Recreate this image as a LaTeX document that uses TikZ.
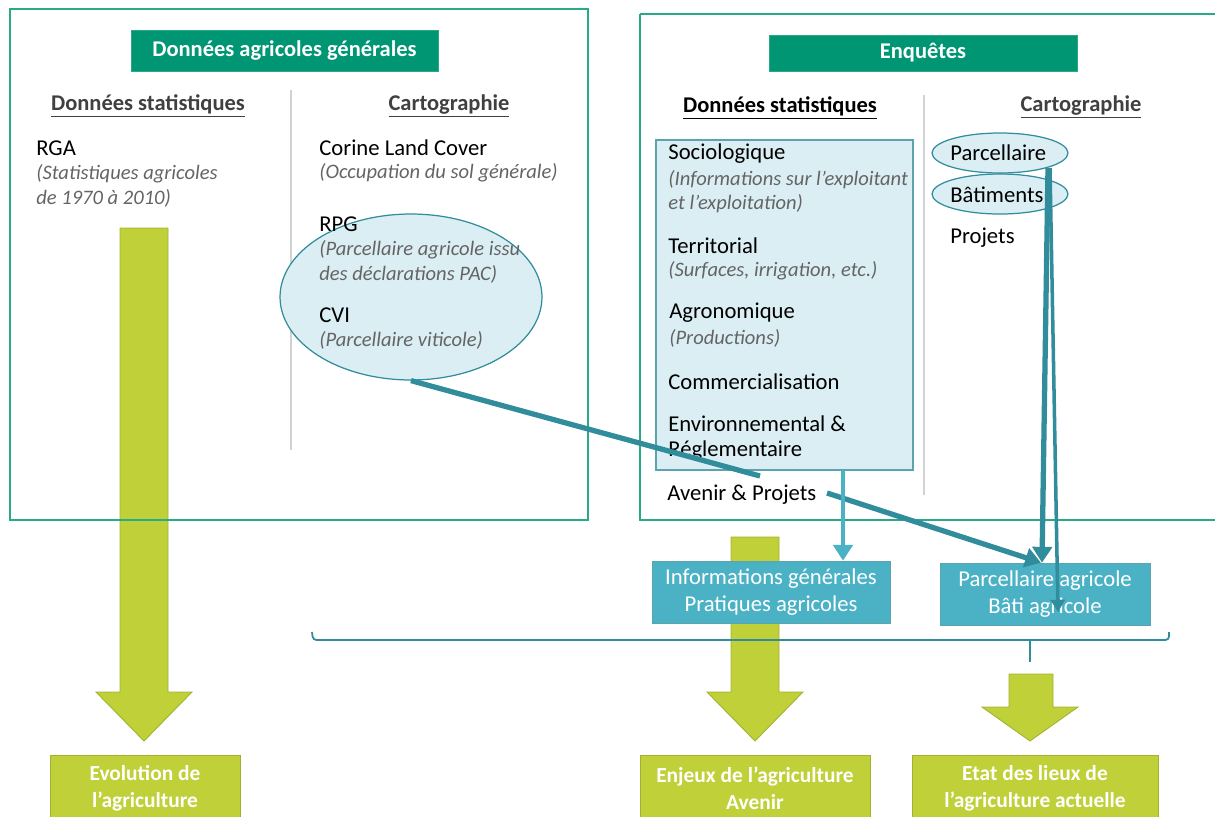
\documentclass[tikz,border=0pt]{standalone}
\usepackage{fontspec}
\setmainfont{Carlito}
\usepackage{tikz}
\usetikzlibrary{shapes.geometric, arrows.meta, positioning, calc}
\definecolor{mygreen}{RGB}{0,150,115}
\definecolor{myframe}{RGB}{40,170,135}
\definecolor{myteal}{RGB}{49,140,155}
\definecolor{mylteal}{RGB}{75,178,198}
\definecolor{myblue}{RGB}{219,238,244}
\definecolor{myolive}{RGB}{192,208,56}
\definecolor{mygraytxt}{RGB}{64,64,64}
\definecolor{myitalic}{RGB}{100,100,100}
\definecolor{mydivider}{RGB}{210,210,210}
\tikzset{
  frame/.style={draw=myframe, line width=0.8pt},
  header/.style={rectangle, draw=myframe, fill=mygreen, text=white,
    font=\fontsize{12.8}{15}\selectfont\bfseries, inner sep=0pt},
  coltitle/.style={font=\fontsize{12.8}{15}\selectfont\bfseries, inner sep=0pt},
  item/.style={anchor=west, font=\fontsize{12.9}{15}\selectfont, inner sep=0pt},
  note/.style={anchor=west, align=left, text=myitalic,
    font=\fontsize{11.7}{13.8}\selectfont\itshape, inner sep=0pt},
  cartoellipse/.style={ellipse, draw=myteal, fill=myblue, line width=0.7pt, inner sep=0pt},
  resultbox/.style={rectangle, draw=myteal!80, fill=mylteal, text=white, align=center,
    font=\fontsize{12.9}{15}\selectfont, inner sep=0pt},
  finalbox/.style={rectangle, draw=myolive!85!black, fill=myolive, text=white, align=center,
    font=\fontsize{12.2}{15.3}\selectfont\bfseries, inner sep=0pt},
  bigarrow/.style={fill=myolive, draw=myolive!85!black, line width=0.5pt},
  arrow/.style={-{Triangle[length=9pt,width=11pt]}, line width=3pt, color=myteal},
  thinarrow/.style={-{Triangle[length=7pt,width=8pt]}, line width=2pt, color=myteal},
  larrow/.style={-{Triangle[length=9pt,width=11pt]}, line width=2.5pt, color=mylteal},
  divider/.style={draw=mydivider, line width=0.6pt}
}
\newcommand{\ul}[1]{\underline{#1}}
\begin{document}
\begin{tikzpicture}[x=0.02cm, y=-0.02cm]
  \useasboundingbox (0,0) rectangle (1215,816);

  % --- BIG GREEN ARROWS (behind) ---
  \draw[bigarrow] (120,228) -- (168,228) -- (168,692) -- (192,692) -- (144,741)
    -- (96,692) -- (120,692) -- cycle;
  \draw[bigarrow] (731,537) -- (779,537) -- (779,692) -- (803,692) -- (755,741)
    -- (707,692) -- (731,692) -- cycle;
  \draw[bigarrow] (1009,674) -- (1053,674) -- (1053,707) -- (1078,707) -- (1030,741)
    -- (982,707) -- (1009,707) -- cycle;

  % --- DONNEES AGRICOLES GENERALES ---
  \draw[frame] (10,9) rectangle (588,520);
  \node[header, minimum width=6.14cm, minimum height=0.82cm]
    (hdr_gen) at (284.5,50.5) {Données agricoles générales};
  \draw[divider] (291,90) -- (291,450);
  \node[coltitle, text=mygraytxt] (gen_stat) at (148,106) {\ul{Données statistiques}};
  \node[coltitle, text=mygraytxt] (gen_carto) at (449,106) {\ul{Cartographie}};

  \node[item] (rga) at (36,148) {RGA};
  \node[note] (rga_note) at (36,186) {(Statistiques agricoles\\de 1970 à 2010)};

  \node[item] (clc) at (319,148) {Corine Land Cover};
  \node[note] (clc_note) at (319,173) {(Occupation du sol générale)};

  \node[cartoellipse, minimum width=5.24cm, minimum height=3.32cm] (rpg_ell) at (411,297) {};
  \node[item] (rpg) at (319,224) {RPG};
  \node[note] (rpg_note) at (319,262) {(Parcellaire agricole issu\\des déclarations PAC)};
  \node[item] (cvi) at (319,315) {CVI};
  \node[note] (cvi_note) at (319,340) {(Parcellaire viticole)};

  % --- ENQUETES ---
  \draw[frame] (640,14) -- (1222,14) (640,14) -- (640,520) -- (1222,520);
  \node[header, minimum width=6.16cm, minimum height=0.72cm]
    (hdr_enq) at (923,53) {Enquêtes};
  \draw[divider] (924,95) -- (924,495);
  \node[coltitle] (enq_stat) at (780,108) {\ul{Données statistiques}};
  \node[coltitle, text=mygraytxt] (enq_carto) at (1081,107) {\ul{Cartographie}};

  \draw[draw=myteal!80, fill=myblue, line width=0.7pt] (656,140) rectangle (913,470);
  \node[item] (socio) at (668,154) {Sociologique};
  \node[note] (socio_note) at (668,192) {(Informations sur l’exploitant\\et l’exploitation)};
  \node[item] (terr) at (668,246) {Territorial};
  \node[note] (terr_note) at (668,271) {(Surfaces, irrigation, etc.)};
  \node[item] (agro) at (669,313) {Agronomique};
  \node[note] (agro_note) at (669,338) {(Productions)};
  \node[item] (comm) at (668,382) {Commercialisation};
  \node[item] (envi) at (668,424) {Environnemental \&};
  \node[item] (regl) at (668,451) {Réglementaire};
  \node[item] (avenir) at (667,495) {Avenir \& Projets};

  \node[cartoellipse, minimum width=2.72cm, minimum height=0.8cm] (parc_ell) at (1000,153) {};
  \node[cartoellipse, minimum width=2.72cm, minimum height=0.8cm] (bati_ell) at (1000,194) {};
  \node[item] (parc) at (950,153) {Parcellaire};
  \node[item] (bati) at (950,195) {Bâtiments};
  \node[item] (proj) at (950,238) {Projets};

  % --- RESULTATS ---
  \node[resultbox, minimum width=4.76cm, minimum height=1.24cm] (res_info) at (771,592)
    {Informations générales\\Pratiques agricoles};
  \node[resultbox, minimum width=4.2cm, minimum height=1.24cm] (res_parc) at (1045,594)
    {Parcellaire agricole\\Bâti agricole};

  \coordinate (rpg_end) at (760,476);
  \draw[line width=3pt, color=myteal] (rpg_ell.south) -- (rpg_end);
  \draw[arrow] (827,493) -- ($(res_parc.north)+(-4,0)$);
  \draw[larrow] (843,470) -- (res_info.north -| 843,0);
  \draw[arrow] (1048,168) -- ($(res_parc.north)+(-3,0)$);
  \draw[thinarrow] (1050,168) -- (1058,612);

  % --- BRACE ---
  \draw[myteal, line width=1pt, rounded corners=2pt] (312,632) -- (313,640) -- (1169,640) -- (1169,632);
  \draw[myteal, line width=1pt] (1030,640) -- (1030,662);

  % --- CONCLUSIONS ---
  \node[finalbox, minimum width=3.8cm, minimum height=1.3cm] (fin_evol) at (145,788)
    {Evolution de\\l’agriculture};
  \node[finalbox, minimum width=4.6cm, minimum height=1.3cm] (fin_enj) at (755,788)
    {Enjeux de l’agriculture\\Avenir};
  \node[finalbox, minimum width=4.92cm, minimum height=1.3cm] (fin_etat) at (1035,788)
    {Etat des lieux de\\l’agriculture actuelle};
\end{tikzpicture}
\end{document}
